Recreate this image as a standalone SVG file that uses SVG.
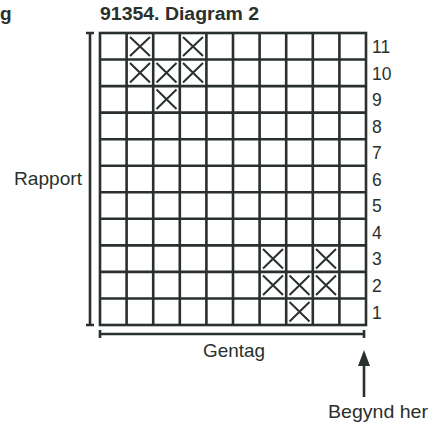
<svg xmlns="http://www.w3.org/2000/svg" width="436" height="430" viewBox="0 0 436 430">
<defs>
<style>
.t{font-family:"Liberation Sans","DejaVu Sans",sans-serif;fill:#2a302c;}
.g{stroke:#2a302c;stroke-width:2.6;fill:none;}
.x{stroke:#2a302c;stroke-width:2;fill:none;}
.ln{stroke:#2a302c;stroke-width:2.6;fill:none;}
</style>
</defs>
<rect width="436" height="430" fill="#ffffff"/>
<text class="t" x="0" y="20" font-size="19" font-weight="bold">g</text>
<text class="t" x="100" y="20" font-size="18" font-weight="bold" textLength="159" lengthAdjust="spacingAndGlyphs">91354. Diagram 2</text>
<g id="grid">
<rect class="g" x="100" y="33" width="266" height="292"/>
<path class="g" d="M126.6,33V325M153.2,33V325M179.8,33V325M206.4,33V325M233,33V325M259.6,33V325M286.2,33V325M312.8,33V325M339.4,33V325"/>
<path class="g" d="M100,59.5H366M100,86.1H366M100,112.6H366M100,139.2H366M100,165.7H366M100,192.3H366M100,218.8H366M100,245.4H366M100,271.9H366M100,298.5H366"/>
</g>
<g id="marks">
<path class="x" d="M130,37L150,56M150,37L130,56M183,37L203,56M203,37L183,56"/>
<path class="x" d="M130,63L150,82.5M150,63L130,82.5M156.5,63L176.5,82.5M176.5,63L156.5,82.5M183,63L203,82.5M203,63L183,82.5"/>
<path class="x" d="M156.5,89.5L176.5,109M176.5,89.5L156.5,109"/>
<path class="x" d="M263,249L283,268.5M283,249L263,268.5M316,249L336,268.5M336,249L316,268.5"/>
<path class="x" d="M263,275.5L283,295M283,275.5L263,295M289.5,275.5L309.5,295M309.5,275.5L289.5,295M316,275.5L336,295M336,275.5L316,295"/>
<path class="x" d="M289.5,302L309.5,321.5M309.5,302L289.5,321.5"/>
</g>
<g id="rownums" class="t" font-size="17.5">
<text x="372" y="53">11</text>
<text x="372" y="80">10</text>
<text x="372" y="106">9</text>
<text x="372" y="133">8</text>
<text x="372" y="159">7</text>
<text x="372" y="186">6</text>
<text x="372" y="212">5</text>
<text x="372" y="239">4</text>
<text x="372" y="265">3</text>
<text x="372" y="292">2</text>
<text x="372" y="319">1</text>
</g>
<g id="connectors">
<path class="ln" d="M90,33V325M86,33H94M86,325H94"/>
<path class="ln" d="M100,334H364M100,330V338M364,330V338"/>
<path class="ln" d="M364,397V362"/>
<path d="M364,350L358,366L370,366Z" fill="#2a302c"/>
</g>
<g id="rapport"><text class="t" x="14" y="185" font-size="19" textLength="68" lengthAdjust="spacingAndGlyphs">Rapport</text></g>
<g id="gentag"><text class="t" x="203" y="357" font-size="19" textLength="62" lengthAdjust="spacingAndGlyphs">Gentag</text></g>
<g id="begynd"><text class="t" x="328" y="418" font-size="19" textLength="100" lengthAdjust="spacingAndGlyphs">Begynd her</text></g>
</svg>
